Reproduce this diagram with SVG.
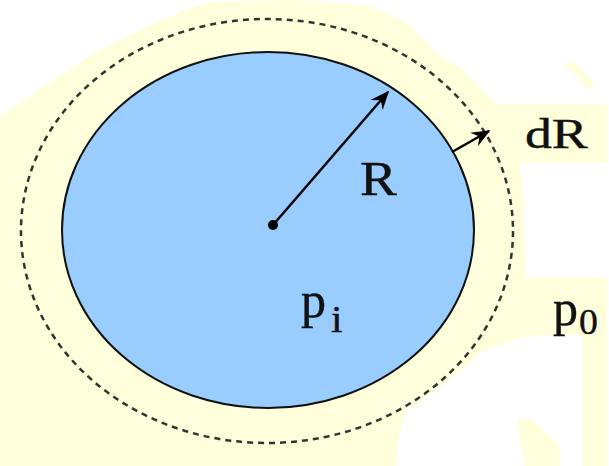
<svg xmlns="http://www.w3.org/2000/svg" width="609" height="466" viewBox="0 0 609 466">
<style>
.lbl{font-family:"Liberation Serif","Times New Roman",serif;fill:#111;stroke:#111;stroke-width:0.4;}
.conn{stroke:#000;stroke-width:2.5;fill:none;}
.bg{fill:#ffffdc;}
</style>
<defs>
<marker id="ah" viewBox="0 0 12 10" refX="11" refY="5" markerWidth="7.5" markerHeight="6.5" orient="auto" markerUnits="strokeWidth">
<path d="M0,0 L12,5 L0,10 L4,5 Z" fill="#000"/>
</marker>
</defs>
<rect width="609" height="466" fill="#fff"/>
<g id="background">
<path class="bg" d="M0,115 L25,100 L50,82 L100,50 L140,30 L180,12 L210,2 L300,0 L370,6 L410,25 L440,57 L460,67 L490,97 L495,104 L607,104 L607,163 L520,163 L524,200 L526,277 L607,277 L607,335 L540,335 L522,338 L500,345 L480,352 L470,363 L440,387 L405,412 L398,440 L396,466 L0,466 Z"/>
<path class="bg" d="M517,420 L530,418 L560,445 L560,466 L525,466 Z"/>
<path class="bg" d="M583,335 L607,335 L607,466 L583,466 Z"/>
<path class="bg" d="M563,63 L575,62 L595,85 L590,90 Z"/>
</g>
<g id="outer">
<ellipse cx="267" cy="231" rx="246" ry="212" fill="none" stroke="#333" stroke-width="2.5" stroke-dasharray="6,5"/>
</g>
<g id="bubble">
<ellipse cx="268" cy="230" rx="206" ry="178" fill="#99ccff" stroke="#111" stroke-width="2"/>
<circle cx="273" cy="225" r="5" fill="#000"/>
</g>
<g id="connectors">
<line class="conn" x1="273" y1="225" x2="388" y2="92" marker-end="url(#ah)"/>
<line class="conn" x1="452" y1="152" x2="489" y2="131" marker-end="url(#ah)"/>
</g>
<g id="labels">
<text class="lbl" font-size="48" transform="translate(360,195) scale(1.15,1)">R</text>
<text class="lbl" font-size="42" transform="translate(525,148) scale(1.28,1)">dR</text>
<text class="lbl" font-size="50" transform="translate(301,317)">p</text>
<text class="lbl" font-size="38" transform="translate(331,332) scale(1.1,1)">i</text>
<text class="lbl" font-size="50" transform="translate(553,325)">p</text>
<text class="lbl" font-size="36" transform="translate(579,334) scale(1.05,1)">0</text>
</g>
</svg>
